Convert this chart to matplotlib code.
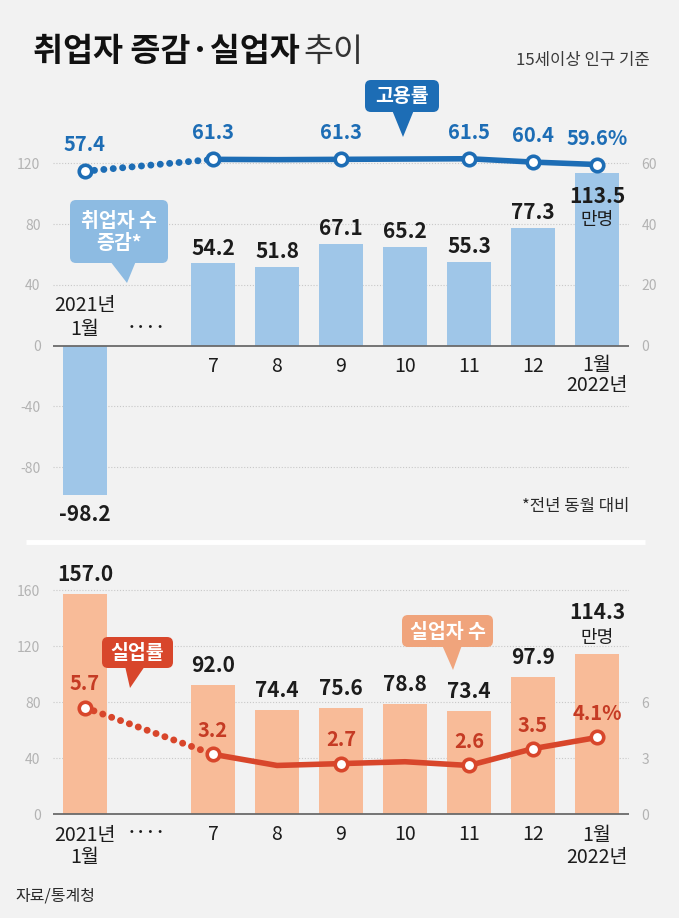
import matplotlib.pyplot as plt
from matplotlib.patches import FancyBboxPatch, Polygon
from matplotlib.transforms import blended_transform_factory

plt.rcParams['font.family'] = ['Noto Sans CJK KR', 'DejaVu Sans']
plt.rcParams['axes.unicode_minus'] = False

W, H = 679, 918

# 데이터 (단위: 만명, %)
pos = [0, 2, 3, 4, 5, 6, 7, 8]
months = ['2021년\n1월', '7', '8', '9', '10', '11', '12', '1월\n2022년']
emp_change = [-98.2, 54.2, 51.8, 67.1, 65.2, 55.3, 77.3, 113.5]
emp_rate = [57.4, 61.3, 61.2, 61.3, 61.4, 61.5, 60.4, 59.6]
unemployed = [157.0, 92.0, 74.4, 75.6, 78.8, 73.4, 97.9, 114.3]
unemp_rate = [5.7, 3.2, 2.6, 2.7, 2.8, 2.6, 3.5, 4.1]
rate_shown = [True, True, False, True, False, True, True, True]

top_ticks = [-80, -40, 0, 40, 80, 120]
top_rticks = [0, 20, 40, 60]
bot_ticks = [0, 40, 80, 120, 160]
bot_rticks = [0, 3, 6]

# 색
BG = '#f2f2f2'
BLUE = '#1d6db5'
LBLUE = '#9fc6e8'
CBLUE = '#8dbbe2'
RED = '#d8462b'
REDTXT = '#c53b24'
ORANGE = '#f8bb98'
CORANGE = '#f0a47c'
DARK = '#1c1c1c'
TICK = '#b3b3b3'
GRID = '#c8c8c8'

fig = plt.figure(figsize=(W / 100, H / 100), dpi=100, facecolor=BG)


def fx(x):
    return x / W


def fy(y):
    return 1 - y / H


def style_axes(ax, ticks, rax, rticks):
    ax.set_facecolor('none')
    for a in (ax, rax):
        for sp in a.spines.values():
            sp.set_visible(False)
        a.set_xticks([])
    ax.set_yticks(ticks)
    rax.set_yticks(rticks)
    ax.tick_params(axis='y', length=0, pad=9, labelsize=10, labelcolor=TICK)
    rax.tick_params(axis='y', length=0, pad=9, labelsize=10, labelcolor=TICK)
    for lab in ax.get_yticklabels() + rax.get_yticklabels():
        lab.set_fontweight('light')
    for t in ticks:
        if t != 0:
            ax.axhline(t, color=GRID, lw=0.8, ls=(0, (1, 1.6)), zorder=0)
    ax.axhline(0, color='#6a6a6a', lw=1.3, zorder=3)


def rate_line(rax, values, color, txtcolor, offset, suffix):
    rax.plot(pos[:2], values[:2], ls=(0, (0.01, 1.35)), lw=5, color=color,
             dash_capstyle='round', zorder=3)
    rax.plot(pos[1:], values[1:], '-', lw=4, color=color,
             solid_capstyle='round', zorder=3)
    xs = [p for p, s in zip(pos, rate_shown) if s]
    ys = [v for v, s in zip(values, rate_shown) if s]
    rax.plot(xs, ys, 'o', ms=9, mfc='white', mec=color, mew=2.6, zorder=4)
    for i, (p, v, s) in enumerate(zip(pos, values, rate_shown)):
        if not s:
            continue
        lab = f'{v}' + (suffix if i == len(pos) - 1 else '')
        rax.annotate(lab, (p, v), xytext=(0, offset), textcoords='offset points',
                     ha='center', va='center', fontsize=14.5, fontweight='bold',
                     color=txtcolor)


# ---------- 위: 취업자 증감 / 고용률 ----------
ax1 = fig.add_axes([fx(53), fy(530), 576 / W, 430 / H])
ax1.set_xlim(-0.5, 8.5)
lo1, hi1 = -(530 - 345.7) / 1.52, (345.7 - 100) / 1.52
ax1.set_ylim(lo1, hi1)
ax1.bar(pos, emp_change, width=0.7, color=LBLUE, zorder=2)
ax1r = ax1.twinx()
ax1r.set_ylim(lo1 / 2, hi1 / 2)
style_axes(ax1, top_ticks, ax1r, top_rticks)

for i, (p, v) in enumerate(zip(pos, emp_change)):
    if i == len(pos) - 1:
        ax1.annotate(f'{v}', (p, v), xytext=(0, -17), textcoords='offset points',
                     ha='center', va='center', fontsize=15, fontweight='bold', color=DARK)
        ax1.annotate('만명', (p, v), xytext=(0, -34), textcoords='offset points',
                     ha='center', va='center', fontsize=13, color=DARK)
    elif v < 0:
        ax1.annotate(f'{v}', (p, v), xytext=(0, -14), textcoords='offset points',
                     ha='center', va='center', fontsize=15, fontweight='bold', color=DARK)
    else:
        ax1.annotate(f'{v}', (p, v), xytext=(0, 11), textcoords='offset points',
                     ha='center', va='center', fontsize=15, fontweight='bold', color=DARK)

rate_line(ax1r, emp_rate, BLUE, BLUE, 19, '%')

# ---------- 아래: 실업자 수 / 실업률 ----------
ax2 = fig.add_axes([fx(53), fy(820), 576 / W, 260 / H])
ax2.set_xlim(-0.5, 8.5)
lo2, hi2 = -(820 - 814) / 1.4, (814 - 560) / 1.4
ax2.set_ylim(lo2, hi2)
ax2.bar(pos, unemployed, width=0.7, color=ORANGE, zorder=2)
ax2r = ax2.twinx()
ax2r.set_ylim(lo2 * 3 / 40, hi2 * 3 / 40)
style_axes(ax2, bot_ticks, ax2r, bot_rticks)

for i, (p, v) in enumerate(zip(pos, unemployed)):
    if i == len(pos) - 1:
        ax2.annotate('만명', (p, v), xytext=(0, 11.5), textcoords='offset points',
                     ha='center', va='center', fontsize=13, color=DARK)
        ax2.annotate(f'{v}', (p, v), xytext=(0, 30), textcoords='offset points',
                     ha='center', va='center', fontsize=15, fontweight='bold', color=DARK)
    else:
        ax2.annotate(f'{v}', (p, v), xytext=(0, 14), textcoords='offset points',
                     ha='center', va='center', fontsize=15, fontweight='bold', color=DARK)

rate_line(ax2r, unemp_rate, RED, REDTXT, 17, '%')

# ---------- 오버레이 (픽셀 좌표) ----------
ov = fig.add_axes([0, 0, 1, 1], zorder=10)
ov.set_xlim(0, W)
ov.set_ylim(H, 0)
ov.set_facecolor('none')
ov.axis('off')

# 월 라벨
cat_kw = dict(ha='center', va='center', fontsize=14, fontweight='light', color=DARK)
tr1 = blended_transform_factory(ax1.transData, ov.transData)
tr2 = blended_transform_factory(ax2.transData, ov.transData)
for i, (p, m) in enumerate(zip(pos, months)):
    lines = m.split('\n')
    ys_top = [305, 329] if i == 0 else [366, 385]
    for line, yy in zip(lines, ys_top):
        ov.text(p, yy, line, transform=tr1, **cat_kw)
    for line, yy in zip(lines, [835, 858]):
        ov.text(p, yy, line, transform=tr2, **cat_kw)
dots_kw = dict(ha='center', va='center', fontsize=12, fontweight='bold', color=DARK)
ov.text(0.95, 328, '····', transform=tr1, **dots_kw)
ov.text(0.95, 833, '····', transform=tr2, **dots_kw)

# 제목
r = fig.canvas.get_renderer()
t = ov.text(33, 52, '취업자 증감·실업자', ha='left', va='center', fontsize=23.5,
            fontweight='bold', color='#111111')
bb = t.get_window_extent(renderer=r)
ov.text(bb.x1 + 4, 52, '추이', ha='left', va='center', fontsize=23.5,
        fontweight='light', color='#333333')
ov.text(650, 60, '15세이상 인구 기준', ha='right', va='center', fontsize=12,
        fontweight='light', color='#3a3a3a')
ov.text(630, 507, '*전년 동월 대비', ha='right', va='center', fontsize=12,
        fontweight='light', color='#2a2a2a')
ov.text(15, 896, '자료/통계청', ha='left', va='center', fontsize=11.5,
        fontweight='light', color='#2a2a2a')

# 구분선
ov.plot([26, 645], [542, 542], color='white', lw=3.5, solid_capstyle='butt')


def callout(x0, y0, x1, y1, tail, color, text, fs=14):
    ov.add_patch(FancyBboxPatch((x0, y0), x1 - x0, y1 - y0,
                                boxstyle='round,pad=0,rounding_size=6',
                                fc=color, ec='none'))
    ov.add_patch(Polygon(tail, closed=True, fc=color, ec='none'))
    ov.text((x0 + x1) / 2, (y0 + y1) / 2 + 1, text, ha='center', va='center',
            fontsize=fs, fontweight='bold', color='white', linespacing=1.25)


callout(365, 80, 439, 112, [(392, 110), (414, 110), (403, 137)], BLUE, '고용률')
callout(70, 200, 168, 263, [(110, 261), (136, 261), (127, 283)], CBLUE, '취업자 수\n증감*')
callout(102, 637, 173, 668, [(125, 666), (145, 666), (130, 688)], RED, '실업률')
callout(402, 615, 493, 647, [(442, 645), (462, 645), (453, 670)], CORANGE, '실업자 수')

fig.savefig('out.png', dpi=100, facecolor=BG)
